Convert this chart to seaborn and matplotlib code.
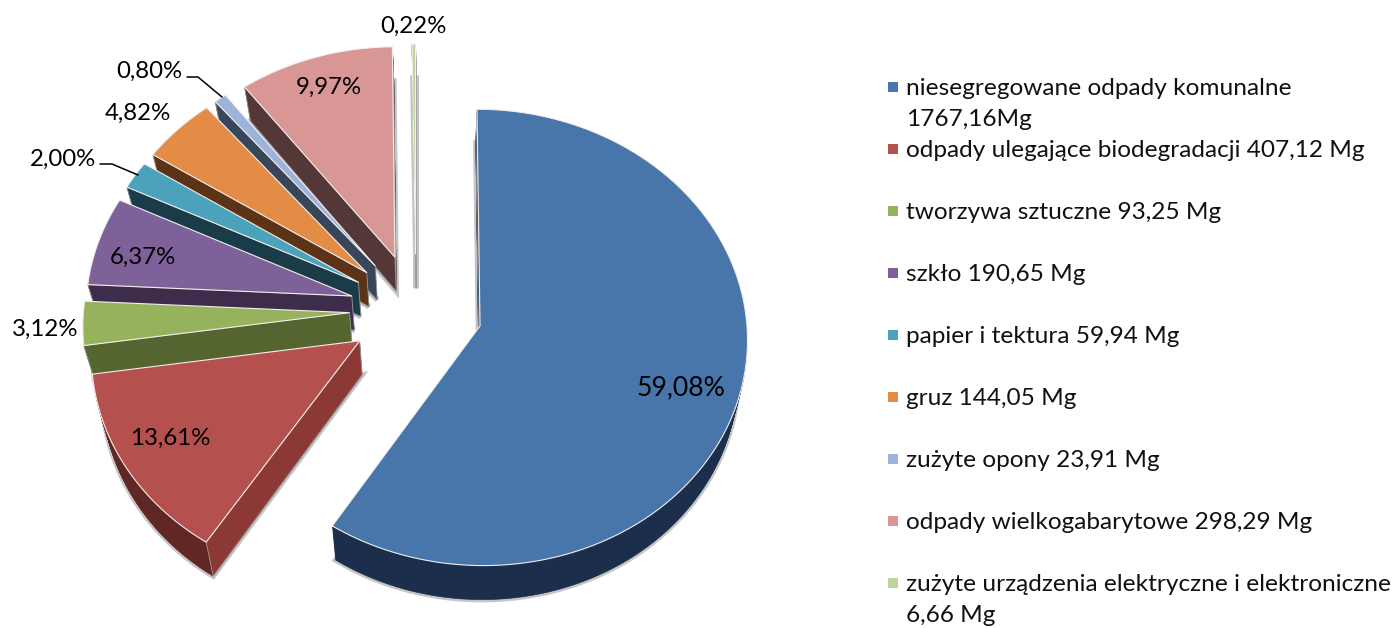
import numpy as np
import matplotlib
matplotlib.use("Agg")
import matplotlib.pyplot as plt
from matplotlib.patches import Polygon
from matplotlib.path import Path
import seaborn as sns

# waste amounts in Mg
categories = ["niesegregowane odpady komunalne\n1767,16Mg",
              "odpady ulegające biodegradacji 407,12 Mg",
              "tworzywa sztuczne 93,25 Mg",
              "szkło 190,65 Mg",
              "papier i tektura 59,94 Mg",
              "gruz 144,05 Mg",
              "zużyte opony 23,91 Mg",
              "odpady wielkogabarytowe 298,29 Mg",
              "zużyte urządzenia elektryczne i elektroniczne\n6,66 Mg"]
values = [1767.16, 407.12, 93.25, 190.65, 59.94, 144.05, 23.91, 298.29, 6.66]

top_colors = ["#4876ab", "#b4504e", "#97b25c", "#7e6199", "#4aa3bb",
              "#e38c45", "#9db3d9", "#d89695", "#bdd59a"]
rim_colors = ["#1b2f4c", "#612725", "#546530", "#3e2c4b", "#1a3c48",
              "#5c3316", "#39465a", "#543838", "#a8a8a8"]
cut_colors = ["#1f3a5c", "#8c3936", "#546530", "#3e2c4b", "#1a3c48",
              "#5c3316", "#39465a", "#543838", "#a8a8a8"]

# label centres in pixels, same order as values
label_xy = [(681, 388), (170, 438), (45, 329), (143, 257), (63, 159),
            (138, 113), (149, 71), (329, 87), (413, 26)]
legend_y = [87, 149, 211, 273, 335, 397, 459, 521, 583]

W, H = 1397, 628
CX, CY = 416, 310      # pie centre, pixels
RX, RY = 266, 226      # pie radius, pixels
TILT = 0.05
DEPTH = 34 / RY
SQUEEZE = 0.03

sns.set_theme(style="white")
plt.rcParams["font.family"] = ["Lato", "DejaVu Sans"]
palette = sns.color_palette(top_colors)

fig = plt.figure(figsize=(W / 100, H / 100), dpi=100)
ax = fig.add_axes([0, 0, 1, 1])


def px(x, y):
    # pixel position in the picture -> data position
    return (x - CX) / RX, (CY - y) / RY


def project(xy, z=0.0):
    # fake 3d: nearer part gets bigger, lower plane drawn a bit narrower
    s = 1 / (1 + TILT * xy[:, 1])
    x = xy[:, 0] * s * (1 - SQUEEZE * z) + 0.09 * SQUEEZE * z
    y = xy[:, 1] * s - DEPTH * z
    return np.column_stack([x, y])


wedges, _, autotexts = ax.pie(values, colors=palette, startangle=90, counterclock=False,
                              explode=[0.25] * len(values), radius=1,
                              autopct=lambda p: f"{p:.2f}%".replace(".", ","),
                              textprops={"fontsize": 17.3, "color": "black"})
ax.set_aspect("auto")
ax.set_xlim(-CX / RX, (W - CX) / RX)
ax.set_ylim((CY - H) / RY, CY / RY)
ax.axis("off")

# back slices first, blue one last
draw_order = [8, 7, 6, 5, 4, 3, 2, 1, 0]
for n, i in enumerate(draw_order):
    w = wedges[i]
    w.set_visible(False)
    t = np.radians(np.linspace(w.theta1, w.theta2, 160))
    cx, cy = w.center
    arc = np.column_stack([cx + w.r * np.cos(t), cy + w.r * np.sin(t)])
    apex = np.array([[cx, cy]])
    shape = np.vstack([apex, arc])
    outline = Path(shape)

    # soft shadow round the body
    low = project(shape, 1.0)
    ax.add_patch(Polygon(low, closed=True, fc="none", ec="#6f6f6f", lw=4.0, alpha=0.4, zorder=2 + n))

    z0 = 2 + n + 0.1
    for z in np.linspace(1, 0.05, 36):
        ax.add_patch(Polygon(project(shape, z), closed=True, fc=rim_colors[i], ec=rim_colors[i], lw=0.5, zorder=z0))

    # flat cut faces, only the ones that can be seen from above
    for edge in (arc[0], arc[-1]):
        mid = (apex[0] + edge) / 2
        dx = edge[0] - apex[0][0]
        upright = abs(dx) < 0.05
        if outline.contains_point(mid - [0, 0.03]) and not upright:
            continue
        line = np.vstack([apex, edge])
        face = np.vstack([project(line, 0.0), project(line, 1.0)[::-1]])
        ax.add_patch(Polygon(face, closed=True, fc=cut_colors[i], ec="#9a9a9a", lw=0.6, zorder=z0 + 0.1))

    ax.add_patch(Polygon(project(shape), closed=True, fc=palette[i], ec="#f2eeee", lw=0.8, zorder=z0 + 0.2))

for i, txt in enumerate(autotexts):
    txt.set_position(px(*label_xy[i]))
    txt.set_ha("center")
    txt.set_va("center")
    txt.set_zorder(30)
autotexts[0].set_fontsize(19.2)

# leader lines for the two small slices
for pts in ([(187, 77), (198, 77), (222, 97)], [(100, 164), (112, 164), (138, 175)]):
    xy = np.array([px(*p) for p in pts])
    ax.plot(xy[:, 0], xy[:, 1], color="black", lw=1.1, zorder=30)

# legend, placed by hand because of the wrapped entries
for i, name in enumerate(categories):
    x0, y0 = px(892.5, legend_y[i])
    ax.scatter([x0], [y0], marker="s", s=60, color=palette[i], linewidths=0, zorder=30)
    for k, line in enumerate(name.split("\n")):
        x1, y1 = px(906, legend_y[i] + 1.5 + 31.5 * k)
        ax.text(x1, y1, line, fontsize=17.6, color="#111111", ha="left", va="center", zorder=30)

fig.savefig("out.png", dpi=100, facecolor="white")
